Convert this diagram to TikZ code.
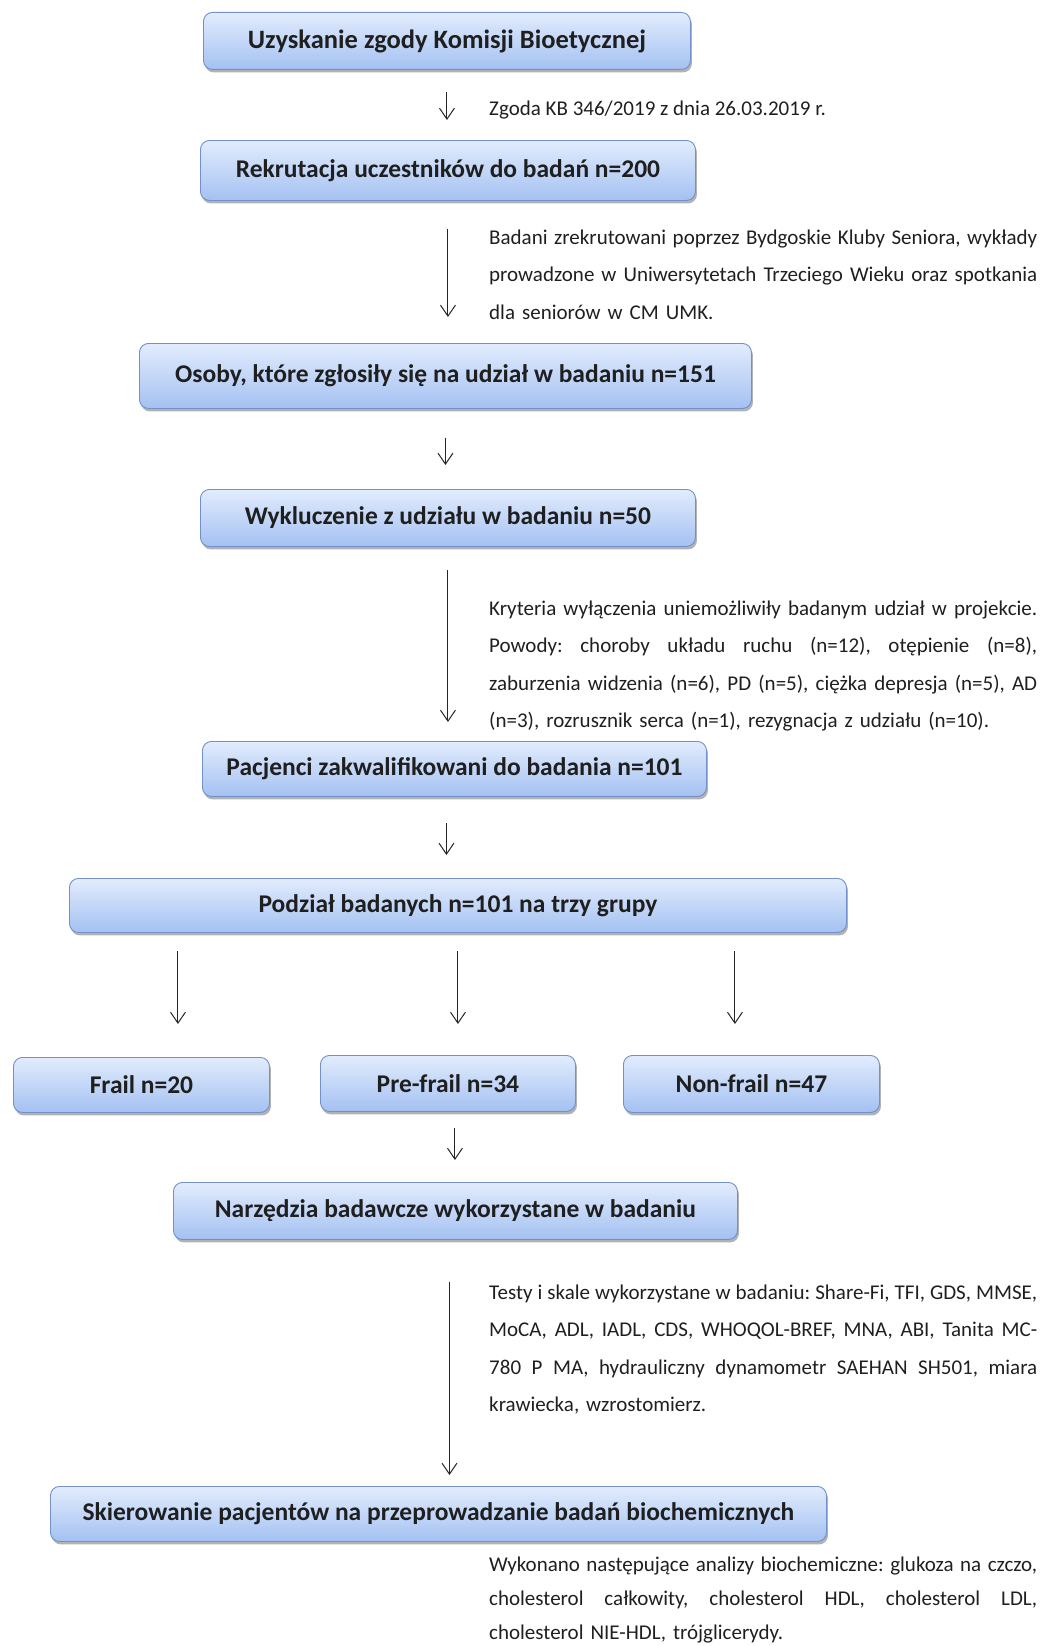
\documentclass[tikz,border=0pt]{standalone}
\usepackage{fontspec}
\setmainfont{Carlito}
\usetikzlibrary{arrows.meta,shadows}
\definecolor{boxtop}{HTML}{E2ECFD}
\definecolor{boxbot}{HTML}{A4C1F2}
\definecolor{boxline}{HTML}{7390C8}
\newcommand\jline[1]{\makebox[548pt][s]{\spaceskip=0.226em plus 1fil minus 0.09em\relax #1}}
\frenchspacing
\tikzset{
  fbox/.style={draw=boxline, line width=0.9pt, rounded corners=9pt,
    top color=boxtop, bottom color=boxbot, anchor=north west, inner sep=0pt,
    font=\fontsize{25.5}{30}\selectfont\bfseries, text=black!88,
    drop shadow={shadow xshift=1.5pt, shadow yshift=-3pt, opacity=0.3, fill=black}},
  arr/.style={-{Straight Barb[length=11pt,width=15pt]}, line width=1pt, black!85},
  para/.style={anchor=base west, inner sep=0pt, align=left, text width=560pt,
    font=\fontsize{21}{37.5}\selectfont\frenchspacing, text=black!88},
  note/.style={anchor=base west, inner sep=0pt, font=\fontsize{21}{25}\selectfont, text=black!88}
}
\begin{document}
\begin{tikzpicture}[x=1pt,y=-1pt]
\useasboundingbox (0,0) rectangle (1051,1646);
% boxes
\node[fbox, minimum width=487pt, minimum height=57pt, font=\fontsize{26.5}{30}\selectfont\bfseries] (b1) at (203,12) {Uzyskanie zgody Komisji Bioetycznej};
\node[fbox, minimum width=495pt, minimum height=60pt] (b2) at (200,140) {Rekrutacja uczestników do badań n=200};
\node[fbox, minimum width=612pt, minimum height=65pt] (b3) at (139,343) {Osoby, które zgłosiły się na udział w badaniu n=151};
\node[fbox, minimum width=495pt, minimum height=57pt] (b4) at (200,489) {Wykluczenie z udziału w badaniu n=50};
\node[fbox, minimum width=504pt, minimum height=55pt] (b5) at (202,741) {Pacjenci zakwalifikowani do badania n=101};
\node[fbox, minimum width=777pt, minimum height=54pt] (b6) at (69,878) {Podział badanych n=101 na trzy grupy};
\node[fbox, minimum width=256pt, minimum height=55pt] (b7) at (13,1057) {Frail n=20};
\node[fbox, minimum width=255pt, minimum height=56pt] (b8) at (320,1055) {Pre-frail n=34};
\node[fbox, minimum width=256pt, minimum height=57pt] (b9) at (623,1055) {Non-frail n=47};
\node[fbox, minimum width=564pt, minimum height=57pt] (b10) at (173,1182) {Narzędzia badawcze wykorzystane w badaniu};
\node[fbox, minimum width=776pt, minimum height=55pt] (b11) at (50,1486) {Skierowanie pacjentów na przeprowadzanie badań biochemicznych};
% texts
\node[note] (t1) at (489,115) {Zgoda KB 346/2019 z dnia 26.03.2019 r.};
\node[para] (t2) at (489,244) {\jline{Badani zrekrutowani poprzez Bydgoskie Kluby Seniora, wykłady}\\
\jline{prowadzone w Uniwersytetach Trzeciego Wieku oraz spotkania}\\
dla seniorów w CM UMK.};
\node[para] (t4) at (489,615) {\jline{Kryteria wyłączenia uniemożliwiły badanym udział w projekcie.}\\
\jline{Powody: choroby układu ruchu (n=12), otępienie (n=8),}\\
\jline{zaburzenia widzenia (n=6), PD (n=5), ciężka depresja (n=5), AD}\\
(n=3), rozrusznik serca (n=1), rezygnacja z udziału (n=10).};
\node[para] (t10) at (489,1299) {\jline{Testy i skale wykorzystane w badaniu: Share-Fi, TFI, GDS, MMSE,}\\
\jline{MoCA, ADL, IADL, CDS, WHOQOL-BREF, MNA, ABI, Tanita MC-}\\
\jline{780 P MA, hydrauliczny dynamometr SAEHAN SH501, miara}\\
krawiecka, wzrostomierz.};
\node[para, font=\fontsize{21}{34}\selectfont\frenchspacing] (t11) at (489,1571) {\jline{Wykonano następujące analizy biochemiczne: glukoza na czczo,}\\
\jline{cholesterol całkowity, cholesterol HDL, cholesterol LDL,}\\
cholesterol NIE-HDL, trójglicerydy.};
% arrows
\draw[arr] ([yshift=-22pt]b1.south) -- ([yshift=20pt]b1.south |- b2.north);
\draw[arr] ([yshift=-28pt]b2.south) -- ([yshift=26pt]b2.south |- b3.north);
\draw[arr] ([yshift=-29pt]b3.south) -- ([yshift=24pt]b3.south |- b4.north);
\draw[arr] ([yshift=-23pt]b4.south) -- ([yshift=19pt]b4.south |- b5.north);
\draw[arr] ([xshift=-8pt,yshift=-26pt]b5.south) -- ([xshift=-8pt,yshift=23pt]b5.south |- b6.north);
\draw[arr] ([xshift=-280pt,yshift=-18pt]b6.south) -- ([xshift=-280pt,yshift=33pt]b6.south |- b7.north);
\draw[arr] ([yshift=-18pt]b6.south) -- ([yshift=31pt]b6.south |- b8.north);
\draw[arr] ([xshift=277pt,yshift=-18pt]b6.south) -- ([xshift=277pt,yshift=31pt]b6.south |- b9.north);
\draw[arr] ([xshift=7pt,yshift=-16pt]b8.south) -- ([xshift=7pt,yshift=22pt]b8.south |- b10.north);
\draw[arr] ([xshift=-6pt,yshift=-42pt]b10.south) -- ([xshift=-6pt,yshift=11pt]b10.south |- b11.north);
\end{tikzpicture}
\end{document}
